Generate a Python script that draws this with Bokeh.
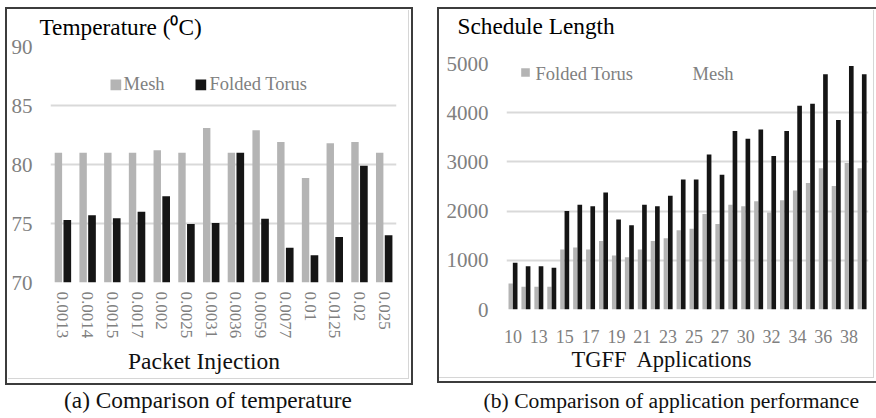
from bokeh.plotting import figure
from bokeh.models import (ColumnDataSource, Range1d, FixedTicker, Label, BoxAnnotation,
                          InlineStyleSheet)
from bokeh.transform import dodge
from bokeh.embed import file_html
from bokeh.resources import INLINE

# ---- (a) temperature per packet injection rate ----
rates = ["0.0013", "0.0014", "0.0015", "0.0017", "0.002", "0.0025", "0.0031",
         "0.0036", "0.0059", "0.0077", "0.01", "0.0125", "0.02", "0.025"]
temp_mesh = [81.0, 81.0, 81.0, 81.0, 81.2, 81.0, 83.1, 81.0, 82.9, 81.9, 78.85, 81.8, 81.9, 81.0]
temp_torus = [75.3, 75.7, 75.45, 76.0, 77.3, 74.95, 75.05, 81.0, 75.4, 72.95, 72.3, 73.85, 79.9, 74.0]
temp_ticks = [70, 75, 80, 85, 90]

# ---- (b) schedule length per TGFF application ----
apps = ["10", "12", "13", "14", "15", "16", "17", "18", "19", "20", "21", "22", "23", "24",
        "25", "26", "27", "28", "30", "31", "32", "33", "34", "35", "36", "37", "38", "39"]
sched_torus = [530, 460, 460, 460, 1220, 1260, 1220, 1390, 1100, 1060, 1220, 1390, 1450, 1610,
               1640, 1940, 1740, 2130, 2100, 2200, 1970, 2220, 2420, 2570, 2870, 2510, 2980, 2870]
sched_mesh = [950, 880, 880, 850, 2000, 2130, 2100, 2380, 1830, 1710, 2130, 2100, 2310, 2640,
              2640, 3150, 2740, 3630, 3470, 3660, 3120, 3630, 4140, 4180, 4780, 3850, 4950, 4780]
sched_ticks = [0, 1000, 2000, 3000, 4000, 5000]

FONT = "Liberation Serif"
GRAY_BAR = "#b4b4b4"
DARK_BAR = "#151515"
GRID = "#d9d9d9"
TICK_TXT = "#808080"
FRAME = "#3c3c3c"
SHADE = "#d6d6d6"
W, H = 876, 418


def panel_css(outer, inner, open_right=False):
    """Box outline drawn around a panel (title, axes and plot), plus a light inner edge."""
    l, t, w, h = outer
    il, it, iw, ih = inner
    right = "none" if open_right else f"2.5px solid {FRAME}"
    return InlineStyleSheet(css=f"""
:host::before {{ content: ""; position: absolute; z-index: 10; pointer-events: none;
  left: {il}px; top: {it}px; width: {iw}px; height: {ih}px;
  border-right: 1.8px solid {SHADE}; border-bottom: 1.8px solid {SHADE}; }}
:host::after {{ content: ""; position: absolute; z-index: 11; pointer-events: none;
  left: {l}px; top: {t}px; width: {w}px; height: {h}px; box-sizing: border-box;
  border: 2.5px solid {FRAME}; border-right: {right}; }}
""")


def base_figure(width, x_range, y_range, left, right, top, bottom, host_left, css):
    p = figure(width=width, height=H, x_range=x_range, y_range=y_range,
               output_backend="svg", toolbar_location=None,
               min_border_left=left, min_border_right=right,
               min_border_top=top, min_border_bottom=bottom,
               styles={"position": "absolute", "left": f"{host_left}px", "top": "0px"},
               stylesheets=[css])
    p.outline_line_color = None
    p.background_fill_color = "white"
    p.border_fill_color = None
    p.xgrid.visible = False
    p.ygrid.grid_line_color = GRID
    p.ygrid.grid_line_width = 2
    for ax in (p.xaxis[0], p.yaxis[0]):
        ax.axis_line_color = None
        ax.major_tick_line_color = None
        ax.minor_tick_line_color = None
        ax.major_tick_out = 0
        ax.major_tick_in = 0
        ax.major_label_text_font = FONT
        ax.major_label_text_color = TICK_TXT
    p.yaxis.major_label_text_font_size = "21px"
    p.yaxis.major_label_standoff = 18
    return p


def text(p, x, baseline, s, size, color="black", align="left"):
    # placed by the vertical middle of the font box, which sits 0.3375 em above the baseline
    p.add_layout(Label(x=x, y=baseline - 0.3375 * size, x_units="canvas", y_units="canvas",
                       text=s, text_font=FONT, text_font_size=f"{size}px", text_color=color,
                       text_align=align, text_baseline="middle"))


def key_box(p, left, right, top, bottom, color):
    p.add_layout(BoxAnnotation(left=left, right=right, top=top, bottom=bottom,
                               left_units="canvas", right_units="canvas",
                               top_units="canvas", bottom_units="canvas",
                               fill_color=color, fill_alpha=1, line_color=None))


# ---------------- left panel ----------------
src_a = ColumnDataSource(dict(idx=list(range(len(rates))), mesh=temp_mesh, torus=temp_torus))
pa = base_figure(436, Range1d(-0.5, len(rates) - 0.5), Range1d(70, 90),
                 left=50, right=40, top=46, bottom=136, host_left=0,
                 css=panel_css((5, 7.3, 408.3, 377.7), (8, 10, 400.3, 368.3)))
pa.vbar(x=dodge("idx", -0.18, range=pa.x_range), top="mesh", bottom=70, width=0.3,
        source=src_a, fill_color=GRAY_BAR, line_color=None)
pa.vbar(x=dodge("idx", 0.18, range=pa.x_range), top="torus", bottom=70, width=0.31,
        source=src_a, fill_color=DARK_BAR, line_color=None)
pa.yaxis.ticker = FixedTicker(ticks=temp_ticks)
pa.xaxis.ticker = FixedTicker(ticks=list(range(len(rates))))
pa.xaxis.major_label_overrides = {i: r for i, r in enumerate(rates)}
pa.xaxis.major_label_orientation = "vertical"
pa.xaxis.major_label_text_font_size = "17px"
pa.xaxis.major_label_standoff = 9

key_box(pa, 110, 120.7, 79, 89.7, GRAY_BAR)
text(pa, 123, 89.3, "Mesh", 18.5, TICK_TXT)
key_box(pa, 195, 205.7, 79, 89.7, DARK_BAR)
text(pa, 209, 89.3, "Folded Torus", 18.5, TICK_TXT)

# ---------------- right panel ----------------
src_b = ColumnDataSource(dict(idx=list(range(len(apps))), torus=sched_torus, mesh=sched_mesh))
pb = base_figure(440, Range1d(-0.5, len(apps) - 0.5), Range1d(0, 5000),
                 left=70, right=8, top=63, bottom=109, host_left=436,
                 css=panel_css((0.7, 7, 439.3, 376.3), (3.2, 9.5, 433.5, 367.8), open_right=True))
pb.vbar(x=dodge("idx", -0.18, range=pb.x_range), top="torus", width=0.33,
        source=src_b, fill_color=GRAY_BAR, line_color=None)
pb.vbar(x=dodge("idx", 0.17, range=pb.x_range), top="mesh", width=0.36,
        source=src_b, fill_color=DARK_BAR, line_color=None)
pb.yaxis.ticker = FixedTicker(ticks=sched_ticks)
pb.xaxis.ticker = FixedTicker(ticks=list(range(0, len(apps), 2)))
pb.xaxis.major_label_overrides = {i: apps[i] for i in range(0, len(apps), 2)}
pb.xaxis.major_label_text_font_size = "18px"
pb.xaxis.major_label_standoff = 20

key_box(pb, 84.7, 93.3, 67.7, 76.3, GRAY_BAR)
text(pb, 99, 79.3, "Folded Torus", 18.5, TICK_TXT)
text(pb, 256, 79.3, "Mesh", 18.5, TICK_TXT)

# ---------------- page-wide text layer: panel titles, axis titles, captions ----------------
ov = figure(width=W, height=H, x_range=Range1d(0, W), y_range=Range1d(0, H),
            output_backend="svg", toolbar_location=None,
            x_axis_location=None, y_axis_location=None, min_border=0,
            styles={"position": "absolute", "left": "0px", "top": "0px",
                    "pointer-events": "none"})
ov.grid.visible = False
ov.outline_line_color = None
ov.background_fill_color = None
ov.border_fill_color = None

text(ov, 39, 34.3, "Temperature (\u2070C)", 23.3)
text(ov, 457, 33.3, "Schedule Length", 23.3)
text(ov, 203.5, 368.5, "Packet Injection", 23.5, "#111111", "center")
text(ov, 661.7, 366.5, "TGFF\u00a0 Applications", 22.5, "#111111", "center")
text(ov, 207.5, 407.3, "(a) Comparison of temperature", 23.3, "#111111", "center")
text(ov, 670.8, 407.3, "(b) Comparison of application performance", 21.6, "#111111", "center")

open("out.html", "w").write(file_html([pa, pb, ov], INLINE))
